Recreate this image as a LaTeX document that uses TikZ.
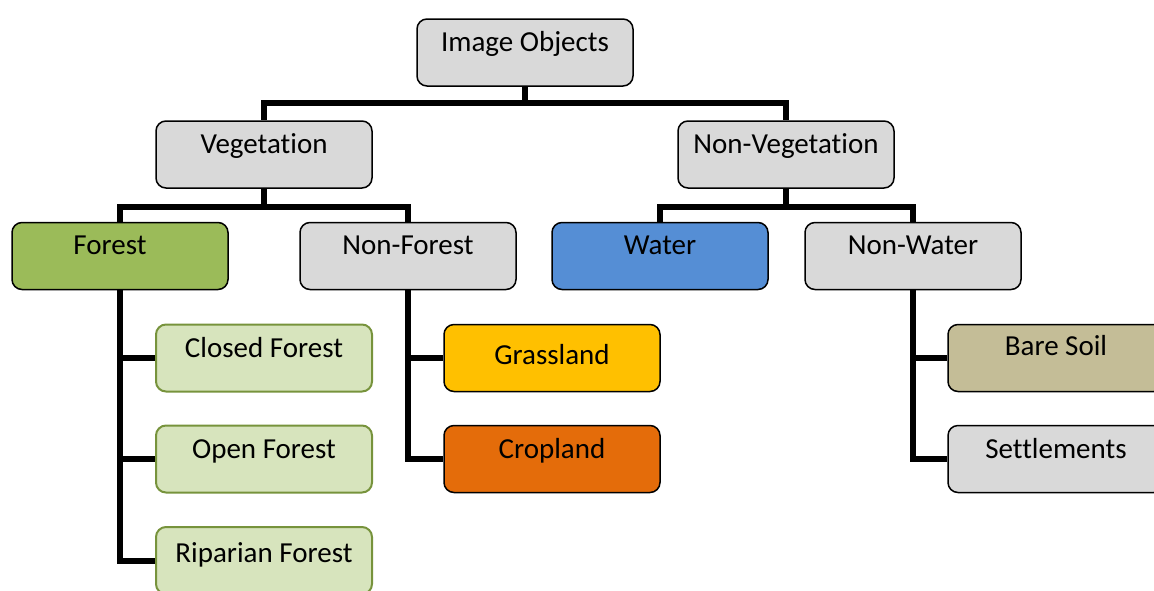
\documentclass[tikz,border=0pt]{standalone}
\usepackage{fontspec}
\setmainfont[Ligatures={NoCommon}]{Carlito}
\definecolor{boxgray}{HTML}{D9D9D9}
\definecolor{forestgreen}{HTML}{9BBB59}
\definecolor{lightgreen}{HTML}{D7E4BD}
\definecolor{lgborder}{HTML}{77933C}
\definecolor{waterblue}{HTML}{558ED5}
\definecolor{grassyellow}{HTML}{FFC000}
\definecolor{croporange}{HTML}{E46C0A}
\definecolor{soiltan}{HTML}{C4BD97}
\tikzset{
  box/.style={draw=black, line width=1.5pt, rounded corners=10pt, minimum width=216pt, minimum height=67pt, inner sep=0pt, fill=boxgray},
  subbox/.style={box, draw=lgborder, line width=2pt, fill=lightgreen},
  txt/.style={anchor=base, inner sep=0pt, font=\fontsize{29}{34}\selectfont},
  conn/.style={line width=6pt, line join=miter, draw=black}
}
\begin{document}
\begin{tikzpicture}[x=1pt,y=-1pt]
\useasboundingbox (0,0) rectangle (1154,590);
\clip (0,0) rectangle (1154,590);
% boxes
\node[box] (io) at (525,52.5) {};
\node[box] (veg) at (264,154.5) {};
\node[box] (nveg) at (786,154.5) {};
\node[box, fill=forestgreen] (forest) at (120,256) {};
\node[box] (nforest) at (408,256) {};
\node[box, fill=waterblue] (water) at (660,256) {};
\node[box] (nwater) at (913,256) {};
\node[subbox] (closed) at (264,358) {};
\node[subbox] (open) at (264,459) {};
\node[subbox] (rip) at (264,560.5) {};
\node[box, fill=grassyellow] (grass) at (552,358) {};
\node[box, fill=croporange] (crop) at (552,459) {};
\node[box, fill=soiltan] (soil) at (1056,358) {};
\node[box] (settle) at (1056,459) {};
% texts
\node[txt] at ([yshift=-33pt]io.north) {Image Objects};
\node[txt] at ([yshift=-33pt]veg.north) {Vegetation};
\node[txt] at ([yshift=-33pt]nveg.north) {Non-Vegetation};
\node[txt] at ([xshift=-10pt,yshift=-33pt]forest.north) {Forest};
\node[txt] at ([yshift=-33pt]nforest.north) {Non-Forest};
\node[txt] at ([yshift=-33pt]water.north) {Water};
\node[txt] at ([yshift=-33pt]nwater.north) {Non-Water};
\node[txt] at ([yshift=-34pt]closed.north) {Closed Forest};
\node[txt] at ([yshift=-34pt]open.north) {Open Forest};
\node[txt] at ([yshift=-36pt]rip.north) {Riparian Forest};
\node[txt] at ([yshift=-41pt]grass.north) {Grassland};
\node[txt] at ([yshift=-34pt]crop.north) {Cropland};
\node[txt] at ([yshift=-32pt]soil.north) {Bare Soil};
\node[txt] at ([yshift=-34pt]settle.north) {Settlements};
% connectors
\draw[conn] (io.south) -- ++(0,16) -| (veg.north);
\draw[conn] (io.south) -- ++(0,16) -| (nveg.north);
\draw[conn] (veg.south) -- ++(0,18) -| (forest.north);
\draw[conn] (veg.south) -- ++(0,18) -| (nforest.north);
\draw[conn] (nveg.south) -- ++(0,18) -| (water.north);
\draw[conn] (nveg.south) -- ++(0,18) -| (nwater.north);
\draw[conn] (forest.south) |- (closed.west);
\draw[conn] (forest.south) |- (open.west);
\draw[conn] (forest.south) |- (rip.west);
\draw[conn] (nforest.south) |- (grass.west);
\draw[conn] (nforest.south) |- (crop.west);
\draw[conn] (nwater.south) |- (soil.west);
\draw[conn] (nwater.south) |- (settle.west);
\end{tikzpicture}
\end{document}
